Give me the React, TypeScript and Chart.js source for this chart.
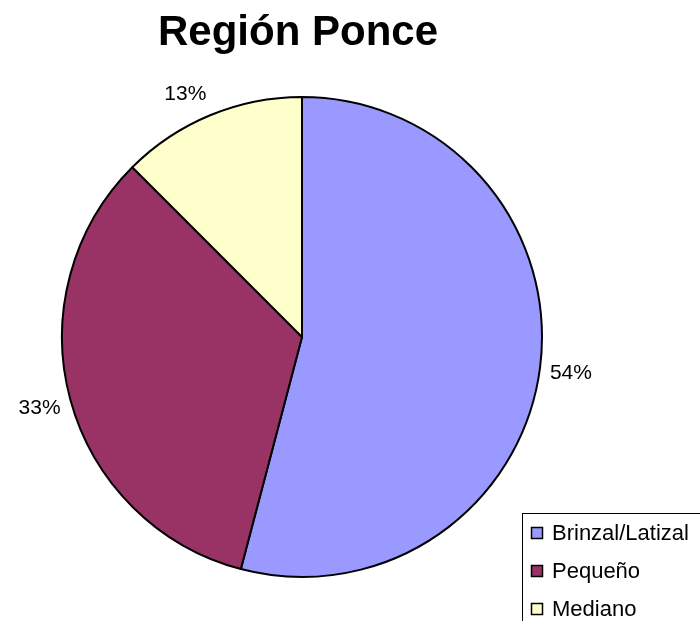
import { useEffect, useRef } from "react";
import { Chart, registerables } from "chart.js";

Chart.register(...registerables);

const chartTitle = "Región Ponce";
const categories = ["Brinzal/Latizal", "Pequeño", "Mediano"];
const values = [54.1, 33.4, 12.5];
const colors = ["#9999FF", "#993366", "#FFFFCC"];

const FONT = '"Liberation Sans", Arial, Helvetica, sans-serif';

const overlayPlugin = {
  id: "overlay",
  afterDatasetsDraw(chart: any) {
    const ctx = chart.ctx as CanvasRenderingContext2D;
    const meta = chart.getDatasetMeta(0);
    const data = chart.data.datasets[0].data as number[];
    const total = data.reduce((a, b) => a + b, 0);
    ctx.save();
    ctx.fillStyle = "#000";
    ctx.textAlign = "center";
    ctx.textBaseline = "alphabetic";
    ctx.font = `21px ${FONT}`;
    meta.data.forEach((arc: any, i: number) => {
      const p = arc.getProps(["x", "y", "startAngle", "endAngle", "outerRadius"], true);
      const mid = (p.startAngle + p.endAngle) / 2;
      const text = Math.round((data[i] / total) * 100) + "%";
      const hw = ctx.measureText(text).width / 2;
      const hh = 15;
      const c = Math.cos(mid);
      const s = Math.sin(mid);
      const R = p.outerRadius + 10;
      const cx = p.x + R * c + hw * Math.sign(c);
      const cy = p.y + R * s + hh * s;
      ctx.fillText(text, cx, cy + 7.5);
    });

    // title
    ctx.font = `bold 42px ${FONT}`;
    ctx.fillText(chartTitle, 298, 45);

    // legend
    const lx = 522;
    const ly = 513;
    ctx.strokeStyle = "#000";
    ctx.lineWidth = 1;
    ctx.strokeRect(lx + 0.5, ly + 0.5, 300, 300);
    ctx.font = `22px ${FONT}`;
    ctx.textAlign = "left";
    const labels = chart.data.labels as string[];
    const bg = chart.data.datasets[0].backgroundColor as string[];
    labels.forEach((lab, i) => {
      const base = ly + 27 + i * 38;
      ctx.fillStyle = bg[i];
      ctx.fillRect(lx + 9, base - 13, 12, 12);
      ctx.strokeStyle = "#000";
      ctx.lineWidth = 1.5;
      ctx.strokeRect(lx + 9.5, base - 12.5, 11, 11);
      ctx.fillStyle = "#000";
      ctx.fillText(lab, lx + 30, base);
    });
    ctx.restore();
  },
};

export default function App() {
  const ref = useRef<HTMLCanvasElement | null>(null);
  useEffect(() => {
    if (!ref.current) return;
    const chart = new Chart(ref.current, {
      type: "pie",
      data: {
        labels: categories,
        datasets: [
          {
            data: values,
            backgroundColor: colors,
            borderColor: "#000",
            borderWidth: 2,
          },
        ],
      },
      options: {
        responsive: false,
        animation: false,
        devicePixelRatio: 1,
        radius: 240,
        layout: { padding: { left: 62, right: 158, top: 97, bottom: 44 } },
        plugins: {
          legend: { display: false },
          title: { display: false },
          tooltip: { enabled: false },
        },
      } as any,
      plugins: [overlayPlugin],
    });
    return () => chart.destroy();
  }, []);
  return (
    <div style={{ position: "absolute", left: 0, top: 0, width: 700, height: 621, background: "#fff" }}>
      <canvas ref={ref} width={700} height={621} style={{ width: 700, height: 621 }} />
    </div>
  );
}
